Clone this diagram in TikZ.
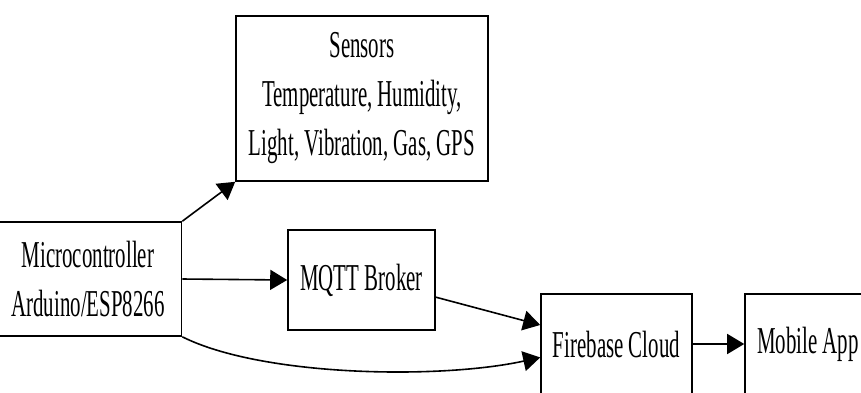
\documentclass[tikz,border=0pt]{standalone}
\usepackage{fontspec}
\setmainfont[FakeStretch=0.55]{Liberation Serif}
\usepackage{tikz}
\usetikzlibrary{arrows.meta}

\begin{document}
\begin{tikzpicture}[x=1pt, y=-1pt, line width=1.6pt,
    block/.style={draw, rectangle, inner sep=0pt, align=center, font=\fontsize{38}{49}\selectfont},
    every path/.style={}, >={Triangle[length=17pt, width=20pt]}]
    \useasboundingbox (0,0) rectangle (861,392);

    \node[block, minimum width=187pt, minimum height=114pt] (micro) at (88,279) {Microcontroller\\Arduino/ESP8266};
    \node[block, minimum width=252pt, minimum height=165pt] (sensors) at (362,98.5) {Sensors\\Temperature, Humidity,\\Light, Vibration, Gas, GPS};
    \node[block, minimum width=147pt, minimum height=100pt] (mqtt) at (361.5,280) {MQTT Broker};
    \node[block, minimum width=151pt, minimum height=100pt] (fire) at (616.5,344) {Firebase Cloud};
    \node[block, minimum width=126pt, minimum height=100pt] (app) at (808,344) {Mobile App};

    \draw[->] (micro.north east) -- (sensors.south west);
    \draw[->] (micro.east) -- (mqtt.west);
    \draw[->] (mqtt.-13) -- (fire.166);
    \draw[->] (micro.south east) .. controls +(80,40) and +(-100,22) .. (fire.190);
    \draw[->] (fire.east) -- (app.west);
\end{tikzpicture}
\end{document}
